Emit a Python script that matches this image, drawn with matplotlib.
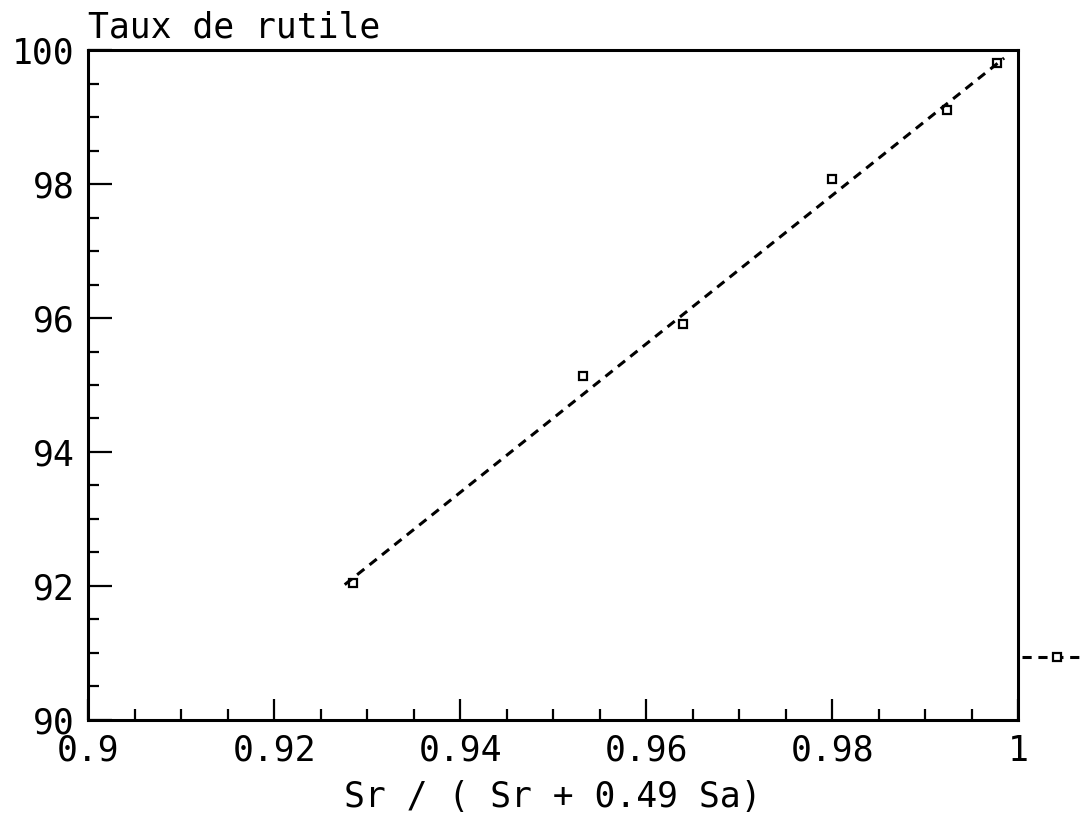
import matplotlib
matplotlib.use('Agg')
import matplotlib.pyplot as plt
from matplotlib.ticker import MultipleLocator

# ── Data ──────────────────────────────────────────────────────────────────────
ratio  = [0.9285, 0.9532, 0.9640, 0.9800, 0.9924, 0.9977]
rutile = [92.04, 95.13, 95.91, 98.07, 99.10, 99.80]

fit_x = [0.9276, 0.9985]
fit_y = [92.02, 99.88]

x_ticks = [0.9, 0.92, 0.94, 0.96, 0.98, 1.0]
x_tick_labels = ['0.9', '0.92', '0.94', '0.96', '0.98', '1']
y_ticks = [90, 92, 94, 96, 98, 100]

plt.rcParams['font.family'] = ['DejaVu Sans Mono', 'DejaVu Sans']

fig = plt.figure(figsize=(10.84, 8.31), dpi=100)
ax = fig.add_axes([0.0812, 0.1336, 0.858, 0.8062])

pts, = ax.plot(ratio, rutile, linestyle='none', marker='s', markersize=5.5,
               markerfacecolor='white', markeredgecolor='black', markeredgewidth=1.6)
fit, = ax.plot(fit_x, fit_y, color='black', linestyle=(0, (3, 2.2)), linewidth=2.2)

ax.set_xlim(0.9, 1.0)
ax.set_ylim(90, 100)
ax.set_xticks(x_ticks)
ax.set_xticklabels(x_tick_labels)
ax.set_yticks(y_ticks)
ax.xaxis.set_minor_locator(MultipleLocator(0.005))
ax.yaxis.set_minor_locator(MultipleLocator(0.5))

ax.tick_params(which='both', direction='in', top=False, right=False,
               labelsize=25, width=1.6, color='black')
ax.tick_params(axis='x', which='major', length=15, pad=10)
ax.tick_params(axis='x', which='minor', length=8)
ax.tick_params(axis='y', which='major', length=17, pad=10)
ax.tick_params(axis='y', which='minor', length=8)

for sp in ax.spines.values():
    sp.set_linewidth(2.2)

ax.set_xlabel('Sr / ( Sr + 0.49 Sa)', fontsize=25, labelpad=9)
ax.text(0.0, 1.008, 'Taux de rutile', transform=ax.transAxes,
        fontsize=25, ha='left', va='bottom')

# legend key sits outside the frame, on the right
ax.legend(handles=[(fit, pts)], labels=[''], loc='center left',
          bbox_to_anchor=(1.004, 0.0925), frameon=False,
          handlelength=3.6, handletextpad=0, borderpad=0, borderaxespad=0,
          fontsize=14)

fig.savefig('out.png', dpi=100)
